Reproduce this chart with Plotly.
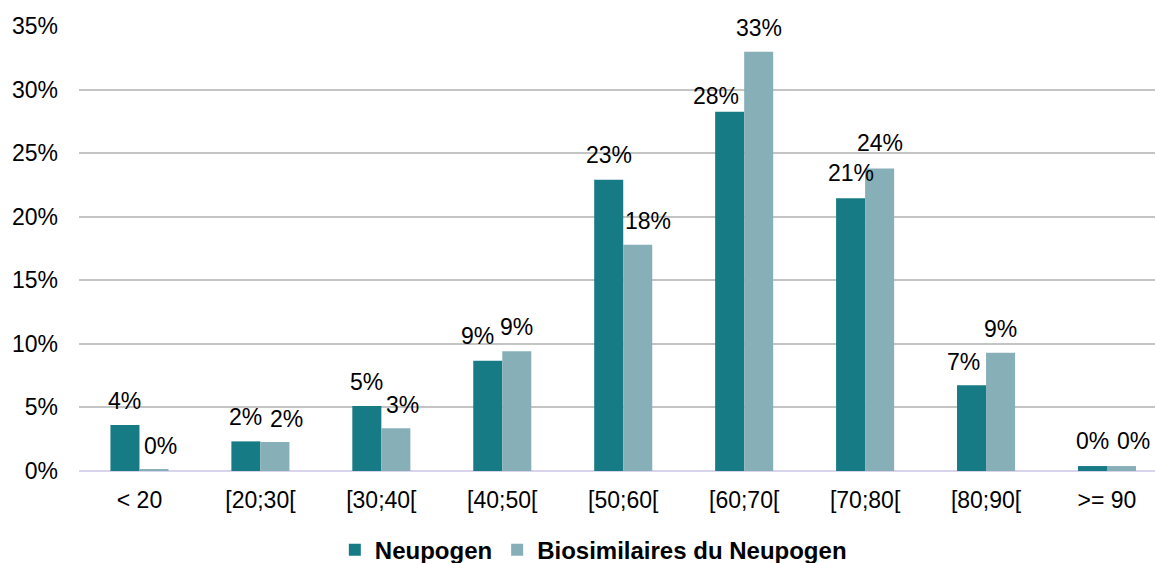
import plotly.graph_objects as go

categories = ["< 20", "[20;30[", "[30;40[", "[40;50[", "[50;60[", "[60;70[", "[70;80[", "[80;90[", ">= 90"]
neupogen = [3.62, 2.33, 5.11, 8.68, 22.9, 28.25, 21.45, 6.74, 0.39]
biosim = [0.16, 2.28, 3.36, 9.41, 17.8, 32.97, 23.8, 9.31, 0.39]
neupogen_labels = ["4%", "2%", "5%", "9%", "23%", "28%", "21%", "7%", "0%"]
biosim_labels = ["0%", "2%", "3%", "9%", "18%", "33%", "24%", "9%", "0%"]
y_ticks = [0, 5, 10, 15, 20, 25, 30, 35]
y_tick_labels = ["0%", "5%", "10%", "15%", "20%", "25%", "30%", "35%"]

# label nudges (pixels) mimicking the reference's placement
neu_dx = [0, 0, 0, -10, 0, -14, 0, -8, 0]
neu_dy = [24, 24, 24, 25, 25, 16, 25, 23, 25]
bio_dx = [7, 12, 7, 0, 10, 0, 0, 0, 12]
bio_dy = [23, 23, 23, 24, 24, 24, 25, 24, 25]

C_NEU = "#177b86"
C_BIO = "#87afb8"
FONT = "Liberation Sans, Arial, sans-serif"
FS = 23

fig = go.Figure()
fig.add_trace(go.Bar(x=categories, y=neupogen, name="Neupogen", marker=dict(color=C_NEU, line=dict(width=0))))
fig.add_trace(go.Bar(x=categories, y=biosim, name="Biosimilaires du Neupogen", marker=dict(color=C_BIO, line=dict(width=0))))

bar_half = 14.5
for i, c in enumerate(categories):
    fig.add_annotation(x=c, y=neupogen[i], text=neupogen_labels[i], showarrow=False,
                       xshift=-bar_half + neu_dx[i], yshift=neu_dy[i], yanchor="middle",
                       font=dict(size=FS, color="#000000", family=FONT))
    fig.add_annotation(x=c, y=biosim[i], text=biosim_labels[i], showarrow=False,
                       xshift=bar_half + bio_dx[i], yshift=bio_dy[i], yanchor="middle",
                       font=dict(size=FS, color="#000000", family=FONT))

fig.update_layout(
    width=1155, height=563,
    margin=dict(l=79, r=0, t=26, b=92),
    paper_bgcolor="white", plot_bgcolor="white",
    barmode="group", bargap=0.52, bargroupgap=0,
    font=dict(family=FONT, size=FS, color="#000000"),
    showlegend=True,
    legend=dict(orientation="h", xref="paper", x=0.478, xanchor="center",
                yref="container", y=0.023, yanchor="middle",
                font=dict(size=24, family=FONT, weight="bold"),
                itemsizing="constant", traceorder="normal", itemwidth=30),
)
fig.update_xaxes(type="category", range=[-0.5, 8.397], showgrid=False, showline=False,
                 zeroline=False, ticks="", ticklabelstandoff=13,
                 tickfont=dict(size=FS, family=FONT))
fig.update_yaxes(range=[0, 35], tickvals=y_ticks, ticktext=y_tick_labels,
                 showgrid=True, gridcolor="#c4c4c4", gridwidth=1.6,
                 zeroline=True, zerolinecolor="#d9d3ec", zerolinewidth=2,
                 showline=False, ticks="", ticklabelstandoff=20,
                 tickfont=dict(size=FS, family=FONT))

fig.write_html("out.html", config={"displayModeBar": False},
               post_script="document.body.style.margin='0';document.body.style.overflow='hidden';")
